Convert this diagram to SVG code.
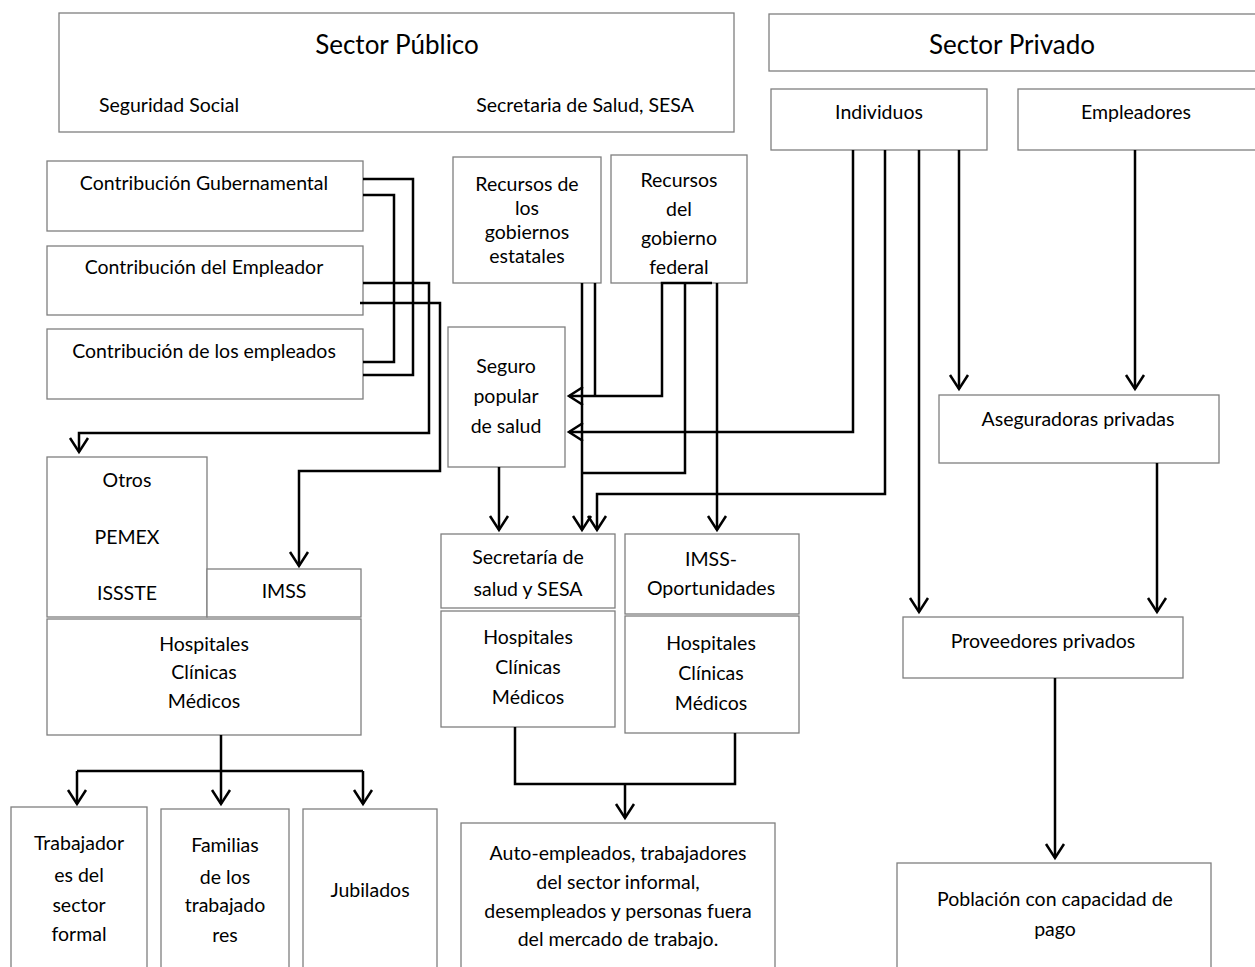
<svg xmlns="http://www.w3.org/2000/svg" width="1255" height="967" viewBox="0 0 1255 967">
<style>
.b{fill:#fff;stroke:#7f7f7f;stroke-width:1.3}
.t{font-family:Lato,"Open Sans","Liberation Sans",sans-serif;font-size:19.5px;fill:#000;text-anchor:middle}
.h{font-size:26px}
.c{fill:none;stroke:#000;stroke-width:2.5}
.a{marker-end:url(#ar)}
</style>
<defs>
<marker id="ar" markerUnits="userSpaceOnUse" markerWidth="24" markerHeight="24" viewBox="-18 -12 24 24" refX="0" refY="0" orient="auto" overflow="visible">
<path d="M-14,-9 L0,0 L-14,9" fill="none" stroke="#000" stroke-width="2.5"/>
</marker>
</defs>
<rect width="1255" height="967" fill="#fff"/>
<g id="sector-publico"><rect class="b" x="59" y="13" width="675" height="119"/>
<text class="t h" x="397" y="54">Sector Público</text>
<text class="t" x="169" y="112">Seguridad Social</text>
<text class="t" x="585" y="112">Secretaria de Salud, SESA</text></g>
<g id="sector-privado"><rect class="b" x="769" y="14" width="491" height="57"/>
<text class="t h" x="1012" y="54">Sector Privado</text></g>
<g id="individuos"><rect class="b" x="771" y="89" width="216" height="61"/><text class="t" x="879" y="119">Individuos</text></g>
<g id="empleadores"><rect class="b" x="1018" y="89" width="242" height="61"/><text class="t" x="1136" y="119">Empleadores</text></g>
<g id="contrib-gub"><rect class="b" x="47" y="161" width="316" height="70"/><text class="t" x="204" y="190">Contribución Gubernamental</text></g>
<g id="contrib-empleador"><rect class="b" x="47" y="246" width="316" height="69"/><text class="t" x="204" y="274">Contribución del Empleador</text></g>
<g id="contrib-empleados"><rect class="b" x="47" y="329" width="316" height="70"/><text class="t" x="204" y="358">Contribución de los empleados</text></g>
<g id="recursos-estatales"><rect class="b" x="453" y="157" width="148" height="126"/>
<text class="t" x="527" y="191">Recursos de</text><text class="t" x="527" y="215">los</text><text class="t" x="527" y="239">gobiernos</text><text class="t" x="527" y="263">estatales</text></g>
<g id="recursos-federal"><rect class="b" x="611" y="155" width="136" height="128"/>
<text class="t" x="679" y="187">Recursos</text><text class="t" x="679" y="216">del</text><text class="t" x="679" y="245">gobierno</text><text class="t" x="679" y="274">federal</text></g>
<g id="seguro-popular"><rect class="b" x="448" y="327" width="117" height="140"/>
<text class="t" x="506" y="373">Seguro</text><text class="t" x="506" y="403">popular</text><text class="t" x="506" y="433">de salud</text></g>
<g id="otros"><rect class="b" x="47" y="457" width="160" height="160"/>
<text class="t" x="127" y="487">Otros</text><text class="t" x="127" y="544">PEMEX</text><text class="t" x="127" y="600">ISSSTE</text></g>
<g id="imss"><rect class="b" x="207" y="569" width="154" height="48"/><text class="t" x="284" y="598">IMSS</text></g>
<g id="hosp-ss"><rect class="b" x="47" y="619" width="314" height="116"/>
<text class="t" x="204" y="651">Hospitales</text><text class="t" x="204" y="679">Clínicas</text><text class="t" x="204" y="708">Médicos</text></g>
<g id="secretaria"><rect class="b" x="441" y="534" width="174" height="74"/>
<text class="t" x="528" y="564">Secretaría de</text><text class="t" x="528" y="596">salud y SESA</text></g>
<g id="imss-op"><rect class="b" x="625" y="534" width="174" height="80"/>
<text class="t" x="711" y="566">IMSS-</text><text class="t" x="711" y="595">Oportunidades</text></g>
<g id="hosp-sec"><rect class="b" x="441" y="611" width="174" height="116"/>
<text class="t" x="528" y="644">Hospitales</text><text class="t" x="528" y="674">Clínicas</text><text class="t" x="528" y="704">Médicos</text></g>
<g id="hosp-imssop"><rect class="b" x="625" y="616" width="174" height="117"/>
<text class="t" x="711" y="650">Hospitales</text><text class="t" x="711" y="680">Clínicas</text><text class="t" x="711" y="710">Médicos</text></g>
<g id="aseguradoras"><rect class="b" x="939" y="395" width="280" height="68"/><text class="t" x="1078" y="426">Aseguradoras privadas</text></g>
<g id="proveedores"><rect class="b" x="903" y="617" width="280" height="61"/><text class="t" x="1043" y="648">Proveedores privados</text></g>
<g id="trabajadores"><rect class="b" x="11" y="807" width="136" height="170"/>
<text class="t" x="79" y="850">Trabajador</text><text class="t" x="79" y="882">es del</text><text class="t" x="79" y="912">sector</text><text class="t" x="79" y="941">formal</text></g>
<g id="familias"><rect class="b" x="161" y="809" width="128" height="168"/>
<text class="t" x="225" y="852">Familias</text><text class="t" x="225" y="884">de los</text><text class="t" x="225" y="912">trabajado</text><text class="t" x="225" y="942">res</text></g>
<g id="jubilados"><rect class="b" x="303" y="809" width="134" height="168"/><text class="t" x="370" y="897">Jubilados</text></g>
<g id="auto-empleados"><rect class="b" x="461" y="823" width="314" height="154"/>
<text class="t" x="618" y="860">Auto-empleados, trabajadores</text><text class="t" x="618" y="889">del sector informal,</text><text class="t" x="618" y="918">desempleados y personas fuera</text><text class="t" x="618" y="946">del mercado de trabajo.</text></g>
<g id="poblacion"><rect class="b" x="897" y="863" width="314" height="114"/>
<text class="t" x="1055" y="906">Población con capacidad de</text><text class="t" x="1055" y="936">pago</text></g>
<g id="connectors">
<path class="c" d="M363,179 H413 V375 H363"/>
<path class="c" d="M363,195 H394 V362 H363"/>
<path class="c a" d="M363,283 H429 V433 H79 V452"/>
<path class="c a" d="M360,303 H440 V471 H299 V566"/>
<path class="c a" d="M582,283 V530"/>
<path class="c" d="M595,283 V396"/>
<path class="c a" d="M712,283 H662 V396 H569"/>
<path class="c" d="M685,283 V473 H582"/>
<path class="c a" d="M717,283 V530"/>
<path class="c a" d="M853,150 V432 H569"/>
<path class="c a" d="M885,150 V494 H597 V530"/>
<path class="c a" d="M919,150 V612"/>
<path class="c a" d="M959,150 V389"/>
<path class="c a" d="M1135,150 V389"/>
<path class="c a" d="M499,467 V530"/>
<path class="c a" d="M1157,463 V612"/>
<path class="c a" d="M1055,678 V858"/>
<path class="c a" d="M221,735 V804"/>
<path class="c" d="M77,771 H363"/>
<path class="c a" d="M77,771 V804"/>
<path class="c a" d="M363,771 V804"/>
<path class="c" d="M515,727 V784 H735 V733"/>
<path class="c a" d="M625,784 V818"/>
</g>
</svg>
